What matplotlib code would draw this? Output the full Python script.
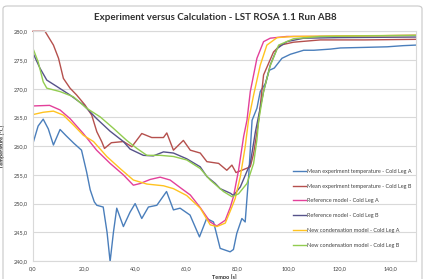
import numpy as np
from matplotlib import pyplot as plt
from matplotlib.patches import FancyBboxPatch
from matplotlib.ticker import FuncFormatter

plt.rcParams['font.family'] = ['Lato', 'DejaVu Sans']

# Mean experiment temperature - Cold Leg A
t_exp_a = [0, 2, 4, 6, 8, 10.6, 13, 16, 19, 21, 22.4, 24, 25, 27.5, 29, 30.2, 31.5, 32.8,
           35.4, 38, 40, 42.6, 45.2, 48.5, 52.3, 55, 57.6, 61.5, 65.2, 68, 70.7, 73.3,
           77.2, 78.5, 79.8, 81.8, 83.1, 84.5, 85.8, 87.7, 89, 91, 92.5, 94.5, 97.5, 100.8,
           106, 110, 116.5, 120.4, 130, 138.7, 145, 150]
T_exp_a = [260.5, 263.5, 264.7, 263, 260.2, 262.9, 261.8, 260.5, 259.3, 255.5, 252.4, 250.3,
           249.7, 249.4, 245, 239.9, 245, 249.2, 246, 248.5, 250, 247.4, 249.4, 249.7, 252.1,
           248.9, 249.2, 248, 244.2, 247.4, 246.8, 242.2, 241.6, 242, 244.8, 247.4, 246.8,
           255, 264.5, 266.6, 269.5, 270.9, 273.2, 273.6, 275.3, 276, 276.7, 276.7, 276.9,
           277.1, 277.2, 277.3, 277.5, 277.6]

# Mean experiment temperature - Cold Leg B
t_exp_b = [0, 4.7, 8, 10, 11.9, 14.5, 17.1, 20.3, 23, 25, 26.9, 28, 30.7, 35.4, 38.7, 42.6,
           46.5, 51.1, 52.4, 55, 58.9, 61.6, 65.5, 68.1, 72.7, 75.9, 77.9, 79.5, 81.8, 85.1,
           86.4, 88.4, 90.3, 94.2, 96.9, 102, 112.5, 130, 150]
T_exp_b = [280, 280, 277.6, 275.3, 271.8, 270.1, 268.9, 267.2, 265.4, 262.5, 260.8, 259.6,
           260.6, 260.8, 259.9, 262.2, 261.5, 261.5, 262.3, 259.3, 261, 259.3, 258.8, 257.3,
           257, 255.8, 256.7, 255.4, 255.8, 256.4, 258.7, 264.5, 272.4, 276.4, 277.6, 278.1,
           278.5, 278.5, 278.6]

# Reference model - Cold Leg A
t_ref_a = [0, 6.5, 10.6, 14.5, 19.7, 24.9, 30.2, 35.4, 39.3, 42, 45.9, 49.8, 53.7, 57.6,
           61.6, 65.5, 69.4, 72, 75.3, 77.3, 78.5, 80.5, 82.5, 83.8, 85.1, 87.7, 90.3, 92.9,
           99.4, 110, 130, 150]
T_ref_a = [267, 267.1, 266.3, 264.8, 262.2, 259.3, 257, 255, 253.2, 253.5, 254.2, 254.6,
           254.1, 252.8, 251.5, 249.3, 246.8, 246.1, 247.1, 249.4, 251.2, 255.8, 261.7, 264.5,
           269.5, 275.3, 278.2, 278.8, 279.1, 279.1, 279.2, 279.3]

# Reference model - Cold Leg B
t_ref_b = [0, 2.7, 5.4, 9.3, 14.5, 19.7, 24.9, 30.2, 35.4, 38, 43.2, 47.1, 51.1, 55, 60.2,
           65.5, 68.1, 71.4, 73.3, 77.3, 78.5, 81.2, 85.1, 87.1, 90.3, 92.9, 95.6, 99.4, 106,
           120, 150]
T_ref_b = [276.2, 273.6, 271.5, 270.4, 268.9, 267.2, 264.8, 262.6, 260.8, 259.5, 258.4,
           258.3, 259, 258.8, 257.8, 256.4, 254.7, 253.5, 252.6, 251.8, 251.4, 252.9, 257,
           262.5, 269.5, 274.1, 277, 278.2, 278.8, 278.9, 279.0]

# New condensation model - Cold Leg A
t_new_a = [0, 4, 8, 11.9, 15.8, 19.7, 23.7, 28.9, 34.1, 39.3, 44.6, 51.1, 55, 60.2, 65.5,
           69.4, 72, 75.3, 77.9, 79.2, 81.2, 83.1, 84.4, 86.4, 89, 91.6, 95.6, 102, 120, 150]
T_new_a = [265.5, 265.9, 266.1, 265.4, 263.7, 261.9, 260.8, 258.2, 256.1, 254.1, 253.4,
           253.1, 252.6, 251.4, 249.2, 246.3, 246, 246.6, 249.4, 250.9, 254.7, 259.9, 264.5,
           268.9, 274.1, 277.6, 278.9, 279.1, 279.2, 279.3]

# New condensation model - Cold Leg B
t_new_b = [0, 2, 4, 5.4, 8, 10.6, 15.8, 21, 26.3, 31.5, 36.7, 40.7, 44.6, 49.8, 55, 60.2,
           65.5, 69.4, 74.6, 77.9, 80.5, 83.8, 86.4, 87.7, 88.4, 90.3, 92.9, 96.2, 102, 112.5,
           130, 150]
T_new_b = [277, 274.7, 271.2, 270.1, 269.8, 269.5, 268.6, 266.6, 265.1, 263.1, 261, 259.6,
           258.4, 258.4, 258.2, 257.6, 256.1, 254.1, 252.1, 251.2, 251.7, 253.5, 257, 261.1,
           264.5, 269.5, 274, 277.6, 278.7, 279.1, 279.2, 279.3]

labels = ['Mean experiment temperature - Cold Leg A',
          'Mean experiment temperature - Cold Leg B',
          'Reference model - Cold Leg A',
          'Reference model - Cold Leg B',
          'New condensation model - Cold Leg A',
          'New condensation model - Cold Leg B']

fig = plt.figure(figsize=(4.3, 2.79), dpi=100)
fig.patch.set_facecolor('white')

# chart frame
frame = FancyBboxPatch((3 / 430, -0.05), 419 / 430, 1 - 6 / 279 + 0.05,
                       boxstyle='round,pad=0,rounding_size=0.01',
                       transform=fig.transFigure, facecolor='none',
                       edgecolor='#c8c8c8', linewidth=0.8, zorder=5)
fig.patches.append(frame)

ax = fig.add_axes([33 / 430, 1 - 261 / 279, 383 / 430, 229.7 / 279])
ax.set_facecolor('white')

lw = 1.0
ax.plot(t_exp_a, T_exp_a, color='#4a7ebb', lw=lw, label=labels[0])
ax.plot(t_exp_b, T_exp_b, color='#b5504d', lw=lw, label=labels[1], clip_on=False)
ax.plot(t_ref_a, T_ref_a, color='#e3409a', lw=lw, label=labels[2])
ax.plot(t_ref_b, T_ref_b, color='#56528a', lw=lw, label=labels[3])
ax.plot(t_new_a, T_new_a, color='#ffc320', lw=lw, label=labels[4])
ax.plot(t_new_b, T_new_b, color='#92cc50', lw=lw, label=labels[5])

ax.set_xlim(0, 150)
ax.set_ylim(240, 280)
ax.set_xticks(np.arange(0, 141, 20))
ax.set_yticks(np.arange(240, 281, 5))
fmt = FuncFormatter(lambda v, p: ('%.1f' % v).replace('.', ','))
ax.xaxis.set_major_formatter(fmt)
ax.yaxis.set_major_formatter(fmt)
ax.tick_params(length=0, labelsize=4, colors='#404040', pad=4)
ax.grid(axis='y', color='#d9d9d9', linewidth=0.8)
ax.set_axisbelow(True)
for s in ax.spines.values():
    s.set_color('#d9d9d9')
    s.set_linewidth(0.8)

ax.set_ylabel('Temperature [°C]', fontsize=4, fontweight='bold', color='#303030', labelpad=6)
ax.set_xlabel('Tempo [s]', fontsize=4, fontweight='bold', color='#303030', labelpad=2)

fig.text(215 / 430, 1 - 17 / 279, 'Experiment versus Calculation - LST ROSA 1.1 Run AB8',
         ha='center', va='center', fontsize=7.0, fontweight='bold', color='#303030')

ax.legend(loc='upper left', bbox_to_anchor=((293 - 33) / 383, (261 - 169) / 229.7),
          frameon=False, fontsize=4, handlelength=2.3, handletextpad=0.2,
          labelspacing=1.75, borderaxespad=0, borderpad=0, labelcolor='#404040')

fig.savefig('out.png', dpi=100, facecolor='white')
